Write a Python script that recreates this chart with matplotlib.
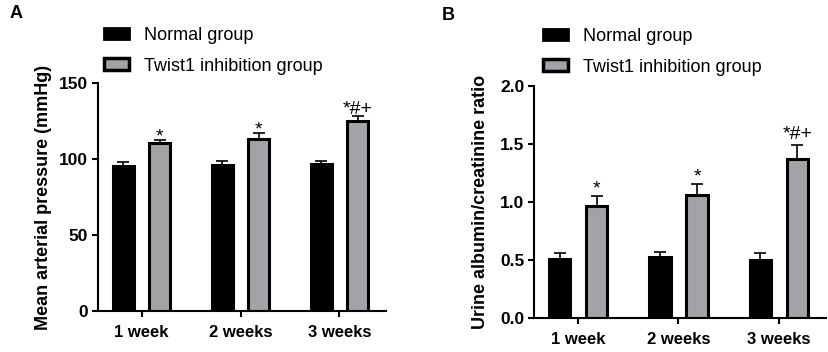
"""Mean arterial pressure and urine albumin/creatinine ratio, normal vs Twist1 inhibition."""

import matplotlib

matplotlib.use("Agg")
import matplotlib.pyplot as plt
import numpy as np
from matplotlib.patches import Patch

plt.rcParams["font.family"] = ["Liberation Sans", "DejaVu Sans"]

weeks = ["1 week", "2 weeks", "3 weeks"]
groups = ["Normal group", "Twist1 inhibition group"]

map_normal = [95.5, 96.2, 96.7]
map_normal_err = [2.6, 2.8, 1.9]
map_twist = [110.3, 113.2, 125.2]
map_twist_err = [2.3, 3.9, 3.4]
map_marks = ["*", "*", "*#+"]

uacr_normal = [0.507, 0.530, 0.500]
uacr_normal_err = [0.057, 0.043, 0.064]
uacr_twist = [0.966, 1.057, 1.372]
uacr_twist_err = [0.085, 0.098, 0.121]
uacr_marks = ["*", "*", "*#+"]

GRAY = "#a2a2a7"
W, H = 829, 352


def panel(ax, normal, normal_err, twist, twist_err, marks, ylim, yticks, ylabel, fmt, shift=0.0):
    x = np.arange(len(weeks))
    off, bw = 0.185, 0.212
    for xs, vals, errs, color in ((x - off, normal, normal_err, "black"), (x + off, twist, twist_err, GRAY)):
        ax.bar(xs, vals, width=bw, color=color, edgecolor="black", linewidth=2.2, zorder=2)
        ax.errorbar(xs, vals, yerr=[np.zeros(len(vals)), errs], fmt="none", ecolor="black",
                    elinewidth=1.2, capsize=4.2, capthick=1.2, zorder=1)
    for xi, v, e, m in zip(x + off, twist, twist_err, marks):
        dy = (0.8 if len(m) > 1 else -1.2) + shift
        ax.annotate(m, (xi, v + e), xytext=(0, dy), textcoords="offset points",
                    ha="center", va="baseline", fontsize=14)
    ax.set_ylim(*ylim)
    ax.set_xlim(-0.44, 2.47)
    ax.set_yticks(yticks)
    ax.set_yticklabels([fmt.format(t) for t in yticks], fontweight="bold", fontsize=12.5)
    ax.set_xticks(x)
    ax.set_xticklabels(weeks, fontweight="bold", fontsize=12)
    ax.set_ylabel(ylabel, fontweight="bold", fontsize=13)
    for s in ("top", "right"):
        ax.spines[s].set_visible(False)
    for s in ("left", "bottom"):
        ax.spines[s].set_linewidth(1.5)
    ax.tick_params(axis="both", width=1.5, length=4, pad=3)
    ax.tick_params(axis="x", pad=6)
    handles = [Patch(facecolor="black", edgecolor="black", linewidth=2),
               Patch(facecolor=GRAY, edgecolor="black", linewidth=2.5)]
    return handles


fig = plt.figure(figsize=(W / 100, H / 100), dpi=100)
ax_a = fig.add_axes([98 / W, 1 - 311 / H, (386 - 98) / W, (311 - 83) / H])
ax_b = fig.add_axes([534 / W, 1 - 318.3 / H, (826 - 534) / W, (318.3 - 85.7) / H])

h = panel(ax_a, map_normal, map_normal_err, map_twist, map_twist_err, map_marks,
          (0, 150), [0, 50, 100, 150], "Mean arterial pressure (mmHg)", "{:.0f}")
ax_a.legend(h, groups, loc="upper left", bbox_to_anchor=(104 / W, 1 - 27 / H), bbox_transform=fig.transFigure,
            frameon=False, fontsize=13, borderpad=0, handlelength=1.4, handleheight=0.6,
            handletextpad=0.8, labelspacing=0.75, borderaxespad=0)
ax_a.yaxis.set_label_coords(-0.158, 0.5)

h = panel(ax_b, uacr_normal, uacr_normal_err, uacr_twist, uacr_twist_err, uacr_marks,
          (0, 2.0), [0.0, 0.5, 1.0, 1.5, 2.0], "Urine albumin/creatinine ratio", "{:.1f}", shift=3.0)
ax_b.legend(h, groups, loc="upper left", bbox_to_anchor=(543 / W, 1 - 28 / H), bbox_transform=fig.transFigure,
            frameon=False, fontsize=13, borderpad=0, handlelength=1.4, handleheight=0.6,
            handletextpad=0.8, labelspacing=0.75, borderaxespad=0)
ax_b.yaxis.set_label_coords(-0.155, 0.5)

fig.text(10 / W, 1 - 14 / H, "A", fontsize=13, fontweight="bold", va="center")
fig.text(442 / W, 1 - 15 / H, "B", fontsize=13, fontweight="bold", va="center")

fig.savefig("out.png", dpi=100)
